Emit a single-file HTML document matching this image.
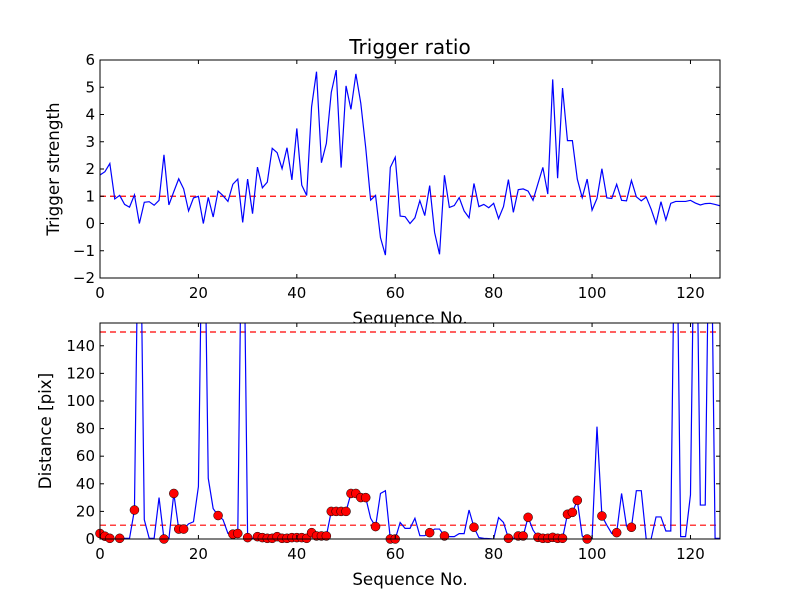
<!DOCTYPE html>
<html><head><meta charset="utf-8"><style>
body{margin:0;background:#fff}
svg{display:block;font-family:"DejaVu Sans","Liberation Sans",sans-serif}
</style></head><body>
<svg id="c" width="800" height="600" xmlns="http://www.w3.org/2000/svg"></svg>
<script>
const triggerStrength=[1.78,1.9,2.2,0.9,1.03,0.7,0.6,1.05,0.0,0.78,0.8,0.67,0.85,2.52,0.68,1.17,1.64,1.27,0.46,0.94,1.0,0.0,0.96,0.24,1.19,1.02,0.81,1.44,1.63,0.04,1.63,0.36,2.07,1.31,1.52,2.76,2.6,2.01,2.78,1.6,3.49,1.41,1.03,4.28,5.57,2.23,2.94,4.81,5.63,2.05,5.05,4.19,5.49,4.41,2.78,0.86,1.03,-0.52,-1.16,2.06,2.43,0.27,0.25,0.0,0.21,0.84,0.29,1.39,-0.33,-1.13,1.77,0.59,0.66,0.95,0.46,0.21,1.47,0.62,0.7,0.58,0.74,0.18,0.62,1.61,0.41,1.24,1.27,1.19,0.85,1.46,2.06,1.08,5.29,1.66,4.97,3.04,3.04,1.63,0.95,1.63,0.49,0.92,2.01,0.94,0.92,1.44,0.85,0.83,1.58,0.98,0.83,0.97,0.53,0.0,0.8,0.13,0.74,0.81,0.81,0.81,0.85,0.75,0.68,0.73,0.74,0.7,0.65];
const distance=[4,2,0.5,0,0.5,0.5,0.5,21,300,14,0.5,0.5,30,0,0,33,7.2,7.2,11,12.5,38,300,44,22,17,14,4,3.5,4,300,1,0.5,1.7,1,0.5,0.5,1.7,0.5,0.5,1,1,1,0.5,4.6,2.2,2.2,2.2,20,20,20,20,33,33,30,30,15,9,33,35,0,0,12,7.7,7.7,15,2.4,2.4,4.6,7.2,7.2,2.2,1.7,1.7,3.9,3.9,21,8.5,1,0.5,0.3,0,15.5,12,0.5,0.5,2.2,2.2,15.7,6.5,1.2,0.5,0.5,1.2,0.5,0.5,17.9,19.3,28,2.2,0,0,81.4,16.7,10,4,4.6,33,9.4,8.5,35,35,0,0,16,16,5.8,5.8,300,1.7,1.7,32,300,24.6,24.6,300,0.5,0.5];
const matchedIdx=[0,1,2,4,7,13,15,16,17,24,27,28,30,32,33,34,35,36,37,38,39,40,41,42,43,44,45,46,47,48,49,50,51,52,53,54,56,59,60,67,70,76,83,85,86,87,89,90,91,92,93,94,95,96,97,99,102,105,108];
const xTicks=[0,20,40,60,80,100,120];
const topYTicks=[-2,-1,0,1,2,3,4,5,6];
const botYTicks=[0,20,40,60,80,100,120,140];
const topThreshold=[1];
const botThresholds=[10,150];

const NS="http://www.w3.org/2000/svg";
const svg=document.getElementById('c');
function el(tag,attrs,parent){const e=document.createElementNS(NS,tag);for(const k in attrs)e.setAttribute(k,attrs[k]);(parent||svg).appendChild(e);return e;}
function txt(s,attrs,parent){const e=el('text',attrs,parent);e.textContent=s;return e;}

const L=100,R=720,XMAX=126;
const xs=v=>L+(v/XMAX)*(R-L);
const T1=60,B1=278,yT=v=>B1-(v+2)/8*(B1-T1);
const T2=323,B2=539,Y2MAX=156.5,yB=v=>B2-v/Y2MAX*(B2-T2);

const defs=el('defs',{});
const c1=el('clipPath',{id:'cp1'},defs);el('rect',{x:L,y:T1,width:R-L,height:B1-T1},c1);
const c2=el('clipPath',{id:'cp2'},defs);el('rect',{x:L,y:T2,width:R-L,height:B2-T2},c2);

let t=txt('Trigger ratio',{x:410,y:54,'font-size':20,'text-anchor':'middle'});

t=txt('Sequence No.',{x:410,y:324,'font-size':16.7,'text-anchor':'middle'});

t=txt('Trigger strength',{x:0,y:0,'font-size':16.7,'text-anchor':'middle',transform:'translate(59,169) rotate(-90)'});

t=txt('Distance [pix]',{x:0,y:0,'font-size':16.7,'text-anchor':'middle',transform:'translate(51,431) rotate(-90)'});

t=txt('Sequence No.',{x:410,y:585,'font-size':16.7,'text-anchor':'middle'});


function axes(name,T,B){
  const g=el('g',{});
  
  el('rect',{x:L,y:T,width:R-L,height:B-T,fill:'#fff'},g);
  return g;
}
function frame(g,T,B,yf,yticks){
  xTicks.forEach(v=>{const x=xs(v);
    el('line',{x1:x,x2:x,y1:B,y2:B-4,stroke:'#000'},g);
    el('line',{x1:x,x2:x,y1:T,y2:T+4,stroke:'#000'},g);
    const l=txt(String(v),{x:x,y:B+20,'font-size':15,'text-anchor':'middle'},g);
    
  });
  yticks.forEach(v=>{const y=yf(v);
    el('line',{x1:L,x2:L+4,y1:y,y2:y,stroke:'#000'},g);
    el('line',{x1:R,x2:R-4,y1:y,y2:y,stroke:'#000'},g);
    const l=txt(v<0?'\u2212'+(-v):String(v),{x:L-5,y:y+5,'font-size':15,'text-anchor':'end'},g);
    
  });
  el('rect',{x:L,y:T,width:R-L,height:B-T,fill:'none',stroke:'#000','stroke-width':1},g);
}

const g1=axes('top-axes',T1,B1);
const p1=el('g',{'clip-path':'url(#cp1)'},g1);
topThreshold.forEach(v=>{const l=el('line',{x1:L,x2:R,y1:yT(v),y2:yT(v),stroke:'#f00','stroke-width':1.2,'stroke-dasharray':'6,4'},p1);
  });
let pl=el('polyline',{points:triggerStrength.map((v,i)=>xs(i)+','+yT(v)).join(' '),fill:'none',stroke:'#00f','stroke-width':1.2},p1);

frame(g1,T1,B1,yT,topYTicks);

const g2=axes('bottom-axes',T2,B2);
const p2=el('g',{'clip-path':'url(#cp2)'},g2);
botThresholds.forEach(v=>{const l=el('line',{x1:L,x2:R,y1:yB(v),y2:yB(v),stroke:'#f00','stroke-width':1.2,'stroke-dasharray':'6,4'},p2);
  });
pl=el('polyline',{points:distance.map((v,i)=>xs(i)+','+yB(v)).join(' '),fill:'none',stroke:'#00f','stroke-width':1.2},p2);

const mg=el('g',{},g2);
matchedIdx.forEach(i=>{const c=el('circle',{cx:xs(i),cy:yB(distance[i]),r:4.5,fill:'#f00',stroke:'#000','stroke-width':0.5},mg);
  });
frame(g2,T2,B2,yB,botYTicks);
</script>
</body></html>
